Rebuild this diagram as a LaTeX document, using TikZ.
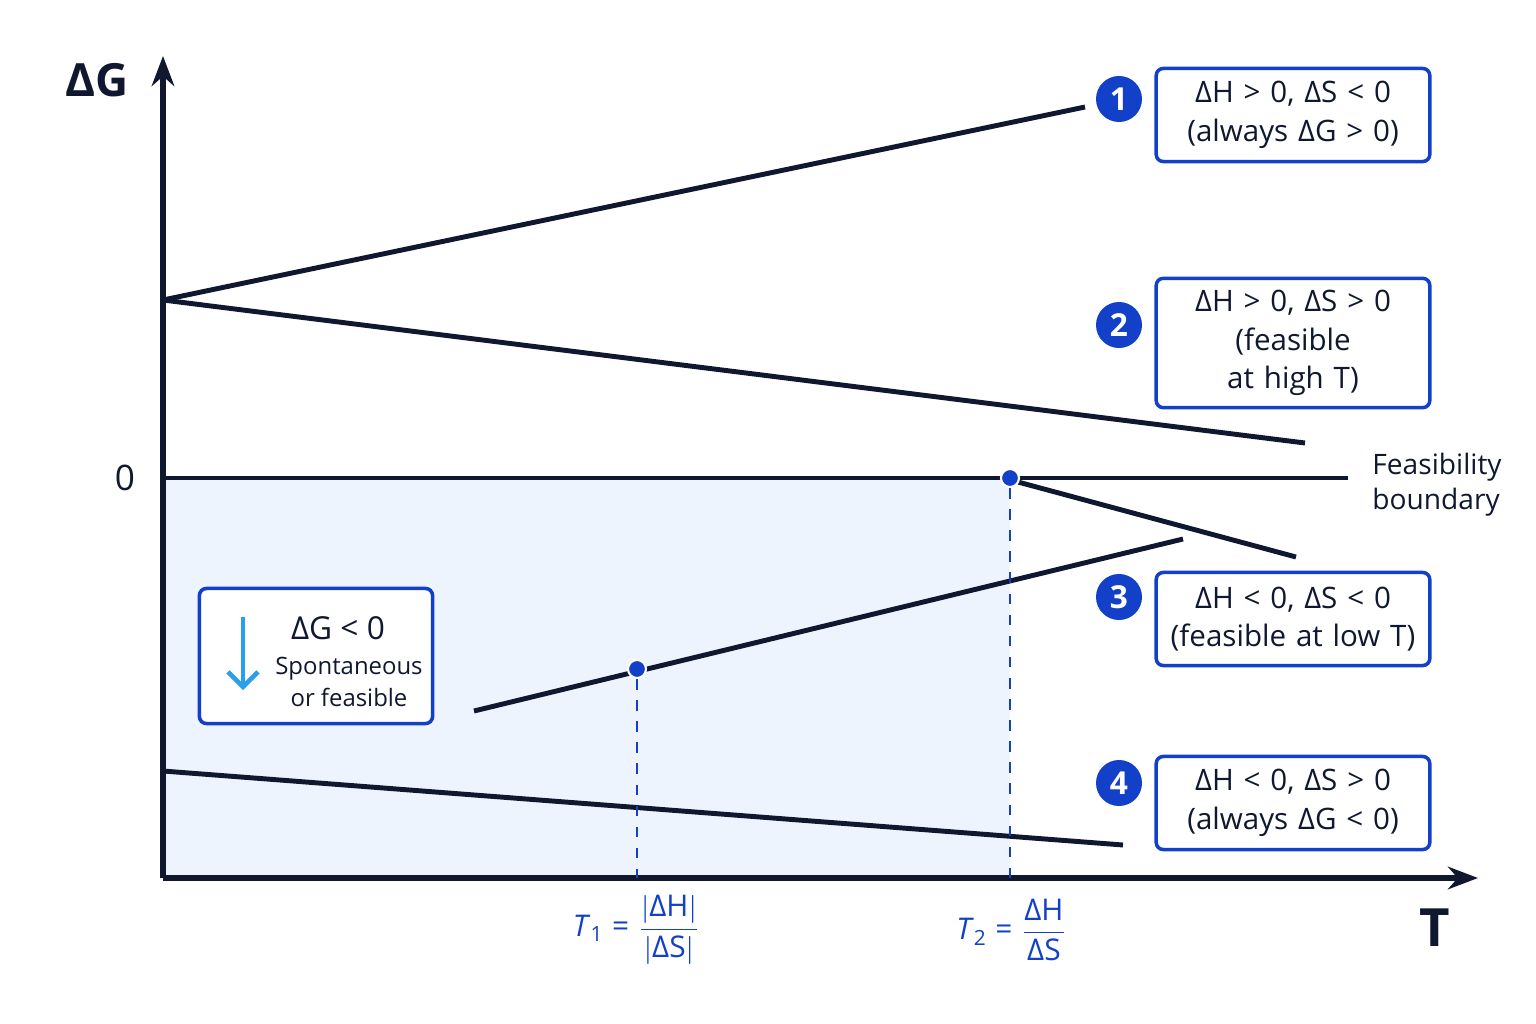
\documentclass[tikz,border=0pt]{standalone}
\usepackage{amsmath}
\usepackage{fontspec}
\setmainfont{Open Sans}
\usetikzlibrary{positioning,calc,arrows.meta}
\definecolor{axisnavy}{RGB}{16,24,48}
\definecolor{markblue}{RGB}{18,64,200}
\definecolor{shadeblue}{RGB}{238,244,253}
\definecolor{arrowsky}{RGB}{40,160,235}
\begin{document}
\begin{tikzpicture}[x=0.01cm, y=-0.01cm,
        caseline/.style={line width=1.4pt, axisnavy},
        casebox/.style={rectangle, draw=markblue, line width=1pt, rounded corners=2pt, minimum width=2.7cm, minimum height=0.93cm, text width=2.5cm, align=center, font=\fontsize{8.4}{11}\selectfont, text=axisnavy},
        badge/.style={circle, fill=markblue, text=white, inner sep=0pt, minimum size=0.46cm, font=\bfseries\fontsize{9}{10}\selectfont},
        dot/.style={circle, fill=markblue, draw=white, line width=0.6pt, inner sep=0pt, minimum size=0.18cm},
        guide/.style={dashed, markblue, line width=0.8pt},
        tlabel/.style={text=markblue, font=\fontsize{8.5}{10}\selectfont}
    ]
        \useasboundingbox (0,0) rectangle (1536,1024);
        % shaded feasible region
        \fill[shadeblue] (163,478) rectangle (1010,878);

        % axes
        \coordinate (origin) at (163,878);
        \coordinate (ytop) at (163,56);
        \coordinate (xend) at (1478,878);
        \draw[axisnavy, line width=1.6pt, -{Stealth[length=0.3cm]}] (origin) -- (ytop);
        \draw[axisnavy, line width=1.6pt, -{Stealth[length=0.3cm]}] (origin) -- (xend);
        \node[text=axisnavy, font=\bfseries\fontsize{13}{14}\selectfont] (ylab) at (97,80) {ΔG};
        \node[text=axisnavy, font=\bfseries\fontsize{15}{16}\selectfont] (xlab) at (1435,928) {T};
        \node[text=axisnavy, font=\fontsize{10}{12}\selectfont] (zlab) at (125,478) {0};

        % feasibility boundary
        \coordinate (zstart) at (163,478);
        \coordinate (zend) at (1348,478);
        \draw[caseline] (zstart) -- (zend);
        \node[right=0.12cm of zend, align=left, text=axisnavy, font=\fontsize{8}{10}\selectfont, yshift=-0.07cm] (fb) {Feasibility\\boundary};

        % case lines
        \coordinate (start) at (163,300);
        \coordinate (c1end) at (1085,107);
        \coordinate (c2end) at (1305,443);
        \coordinate (c3start) at (474,711);
        \coordinate (c3end) at (1183,539);
        \coordinate (c3bend) at (1296,557);
        \coordinate (c4start) at (163,771);
        \coordinate (c4end) at (1123,845);
        \draw[caseline] (start) -- (c1end);
        \draw[caseline] (start) -- (c2end);
        \draw[caseline] (c3start) -- (c3end);
        \draw[caseline] (1018,482) -- (c3bend);
        \draw[caseline] (c4start) -- (c4end);

        % crossing temperatures
        \node[dot] (p2) at (1010,478) {};
        \node[dot] (p1) at (637,669) {};
        \coordinate (f1) at (637,878);
        \coordinate (f2) at (1010,878);
        \draw[guide] (p1) -- (f1);
        \draw[guide] (p2) -- (f2);
        \node[tlabel] (t1) at (637,930) {\textit{T}\textsubscript{1} = $\dfrac{|\text{ΔH}|}{|\text{ΔS}|}$};
        \node[tlabel] (t2) at (1012,930) {\textit{T}\textsubscript{2} = $\dfrac{\text{ΔH}}{\text{ΔS}}$};

        % case boxes
        \node[casebox] (box1) at (1293,115) {ΔH > 0, ΔS < 0\\(always ΔG > 0)};
        \node[casebox] (box2) at (1293,343) {ΔH > 0, ΔS > 0\\(feasible at high T)};
        \node[casebox] (box3) at (1293,619) {ΔH < 0, ΔS < 0\\(feasible at low T)};
        \node[casebox] (box4) at (1293,803) {ΔH < 0, ΔS > 0\\(always ΔG < 0)};
        \node[badge] (n1) at (1119,99) {1};
        \node[badge] (n2) at (1119,325) {2};
        \node[badge] (n3) at (1119,597) {3};
        \node[badge] (n4) at (1119,783) {4};

        % legend
        \node[casebox, text width={}, fill=white, minimum width=2.33cm, minimum height=1.35cm] (legend) at (316,656) {};
        \node[text=axisnavy, font=\fontsize{9}{11}\selectfont] (lgtitle) at (338,628) {ΔG < 0};
        \node[text=axisnavy, align=center, font=\fontsize{6.8}{9}\selectfont] (lgtext) at (349,682) {Spontaneous\\or feasible};
        \coordinate (arrtop) at (243,617);
        \coordinate (arrbot) at (243,690);
        \draw[arrowsky, line width=1.3pt, -{Straight Barb[length=0.15cm, width=0.3cm]}] (arrtop) -- (arrbot);
    \end{tikzpicture}
\end{document}
